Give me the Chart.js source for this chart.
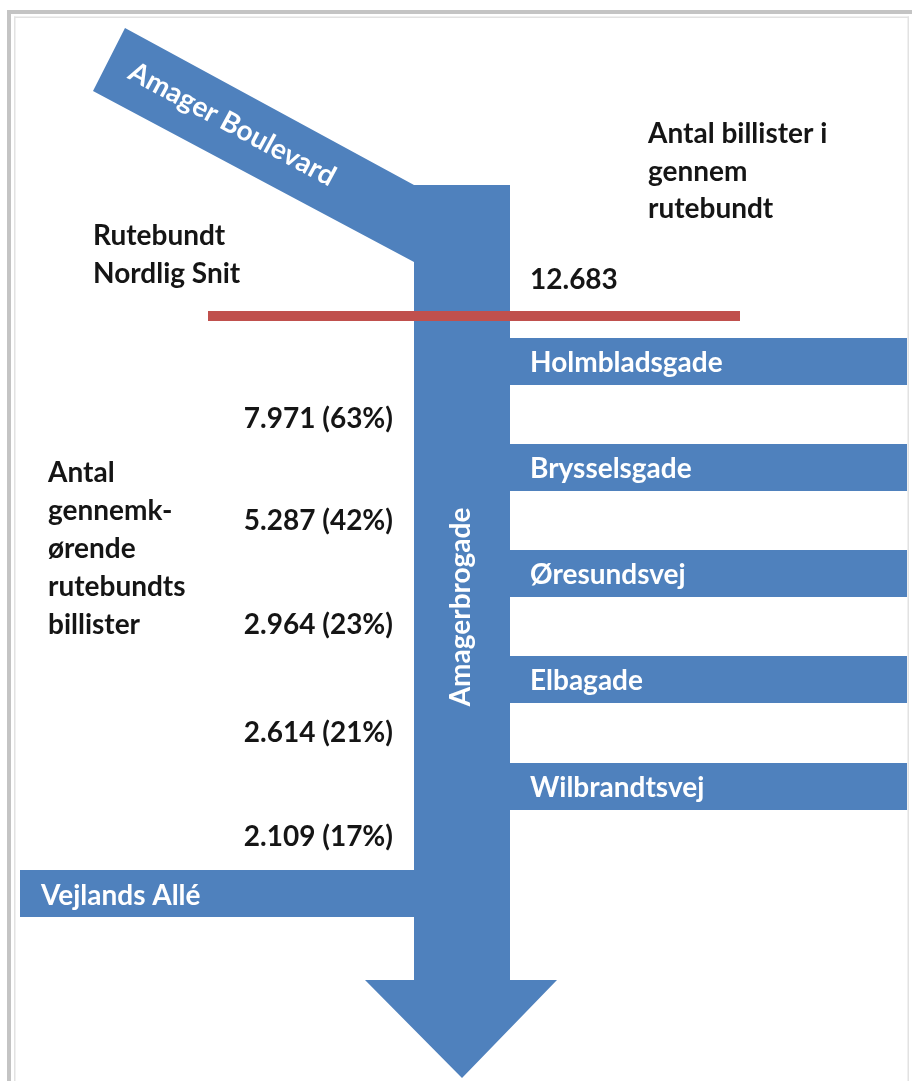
<!DOCTYPE html>
<html lang="da"><head><meta charset="utf-8">
<script src="https://cdn.jsdelivr.net/npm/chart.js@4.4.1/dist/chart.umd.min.js"></script>
<style>
html,body{margin:0;padding:0;background:#fff;overflow:hidden}
#wrap{position:relative;width:912px;height:1081px}
</style></head><body>
<div id="wrap"><canvas id="chart"></canvas></div>
<script>
// ---------- DATA ----------
const inflowStreet = 'Amager Boulevard';
const mainStreet = 'Amagerbrogade';
const rightStreets = ['Holmbladsgade', 'Brysselsgade', 'Øresundsvej', 'Elbagade', 'Wilbrandtsvej'];
const leftStreets = ['Vejlands Allé'];
const totalCount = 12683;
const throughCounts = [7971, 5287, 2964, 2614, 2109];
const throughPct = [63, 42, 23, 21, 17];
const cutLabel = ['Rutebundt', 'Nordlig Snit'];
const totalLabel = ['Antal billister i', 'gennem', 'rutebundt'];
const throughLabel = ['Antal', 'gennemk-', 'ørende', 'rutebundts', 'billister'];

// ---------- LAYOUT (scale units = pixels) ----------
const W = 912, H = 1081;
const shaft = { l: 414, r: 510, top: 185, bottom: 980, headL: 365, headR: 557, tip: 1078 };
const diag = { topCorner: [125, 28], botCorner: [93, 91], joinBottom: 262, angle: 28.3 };
const rightBarTops = [338, 444, 550, 656, 763];
const barH = 47, barRightEnd = 907;
const leftBar = { x0: 20, top: 870 };
const cut = { x0: 208, x1: 740, y: 316, w: 10 };
const valueBaselines = [428, 530, 634, 742, 846];
const BLUE = '#4F81BD', RED = '#C0504D', INK = '#151515';
const FONT = 'bold 28px Lato, "Open Sans", sans-serif';

const fmt = n => String(n).replace(/\B(?=(\d{3})+(?!\d))/g, '.');
const pts = arr => arr.map(([x, y]) => ({ x, y }));
const rect = (x0, y0, x1, y1) => pts([[x0, y0], [x1, y0], [x1, y1], [x0, y1], [x0, y0]]);

const mainShape = pts([
  diag.topCorner, [shaft.l, shaft.top], [shaft.r, shaft.top], [shaft.r, shaft.bottom],
  [shaft.headR, shaft.bottom], [(shaft.l + shaft.r) / 2, shaft.tip], [shaft.headL, shaft.bottom],
  [shaft.l, shaft.bottom], [shaft.l, diag.joinBottom], diag.botCorner, diag.topCorner
]);

const shapeDs = (data, order) => ({
  type: 'line', data, order, fill: 'shape', backgroundColor: BLUE,
  borderColor: 'rgba(0,0,0,0)', borderWidth: 1, pointRadius: 0, tension: 0
});

const datasets = [
  { type: 'line', data: pts([[cut.x0, cut.y], [cut.x1, cut.y]]), order: 0, fill: false,
    borderColor: RED, borderWidth: cut.w, borderCapStyle: 'butt', pointRadius: 0 },
  shapeDs(mainShape, 2),
  ...rightStreets.map((s, i) => shapeDs(rect(shaft.r - 4, rightBarTops[i], barRightEnd, rightBarTops[i] + barH), 3)),
  ...leftStreets.map(() => shapeDs(rect(leftBar.x0, leftBar.top, shaft.l + 4, leftBar.top + barH), 3))
];

const framePlugin = {
  id: 'frame',
  beforeDraw(chart) {
    const { ctx, scales: { x, y } } = chart;
    ctx.save();
    ctx.fillStyle = '#fff';
    ctx.fillRect(0, 0, chart.width, chart.height);
    ctx.fillStyle = '#c4c4c4';
    ctx.fillRect(x.getPixelForValue(7), y.getPixelForValue(10), x.getPixelForValue(W) - x.getPixelForValue(7), 4);
    ctx.fillRect(x.getPixelForValue(7), y.getPixelForValue(10), 4, y.getPixelForValue(H) - y.getPixelForValue(10));
    ctx.fillStyle = '#e2e2e2';
    ctx.fillRect(x.getPixelForValue(14), y.getPixelForValue(16.5), x.getPixelForValue(909) - x.getPixelForValue(14), 1.5);
    ctx.fillRect(x.getPixelForValue(14), y.getPixelForValue(16.5), 1.5, y.getPixelForValue(H) - y.getPixelForValue(16.5));
    ctx.fillRect(x.getPixelForValue(907.5), y.getPixelForValue(16.5), 1.5, y.getPixelForValue(H) - y.getPixelForValue(16.5));
    ctx.restore();
  }
};

const textPlugin = {
  id: 'diagramText',
  afterDatasetsDraw(chart) {
    const { ctx, scales: { x, y } } = chart;
    const put = (str, vx, vy, color, align = 'left', rot = 0) => {
      ctx.save();
      ctx.translate(x.getPixelForValue(vx), y.getPixelForValue(vy));
      if (rot) ctx.rotate(rot * Math.PI / 180);
      ctx.fillStyle = color; ctx.textAlign = align; ctx.textBaseline = 'alphabetic';
      ctx.fillText(str, 0, 0);
      ctx.restore();
    };
    ctx.save();
    ctx.font = FONT;
    // inflow street along the diagonal band
    const a = diag.angle * Math.PI / 180, d = [Math.cos(a), Math.sin(a)], n = [-Math.sin(a), Math.cos(a)];
    const along = 140, off = 43;
    put(inflowStreet, diag.topCorner[0] + d[0] * along + n[0] * off, diag.topCorner[1] + d[1] * along + n[1] * off, '#fff', 'center', diag.angle);
    // main street (vertical)
    put(mainStreet, 470, 607, '#fff', 'center', -90);
    // side streets
    rightStreets.forEach((s, i) => put(s, 530, rightBarTops[i] + barH / 2 + 10, '#fff'));
    leftStreets.forEach(s => put(s, 41, leftBar.top + barH / 2 + 11, '#fff'));
    // black labels
    cutLabel.forEach((s, i) => put(s, 93, 245 + i * 38, INK));
    totalLabel.forEach((s, i) => put(s, 648, 143 + i * 37.5, INK));
    put(fmt(totalCount), 530, 289, INK);
    throughLabel.forEach((s, i) => put(s, 48, 482 + i * 38, INK));
    throughCounts.forEach((v, i) => put(fmt(v) + ' (' + throughPct[i] + '%)', 393, valueBaselines[i], INK, 'right'));
    ctx.restore();
  }
};

new Chart(document.getElementById('chart'), {
  type: 'line',
  data: { datasets },
  options: {
    responsive: true, maintainAspectRatio: false, animation: false, events: [],
    layout: { padding: 0 },
    parsing: true,
    scales: {
      x: { type: 'linear', min: 0, max: W, display: false },
      y: { type: 'linear', min: 0, max: H, reverse: true, display: false }
    },
    plugins: { legend: { display: false }, tooltip: { enabled: false } }
  },
  plugins: [framePlugin, textPlugin]
});
</script>
</body></html>
